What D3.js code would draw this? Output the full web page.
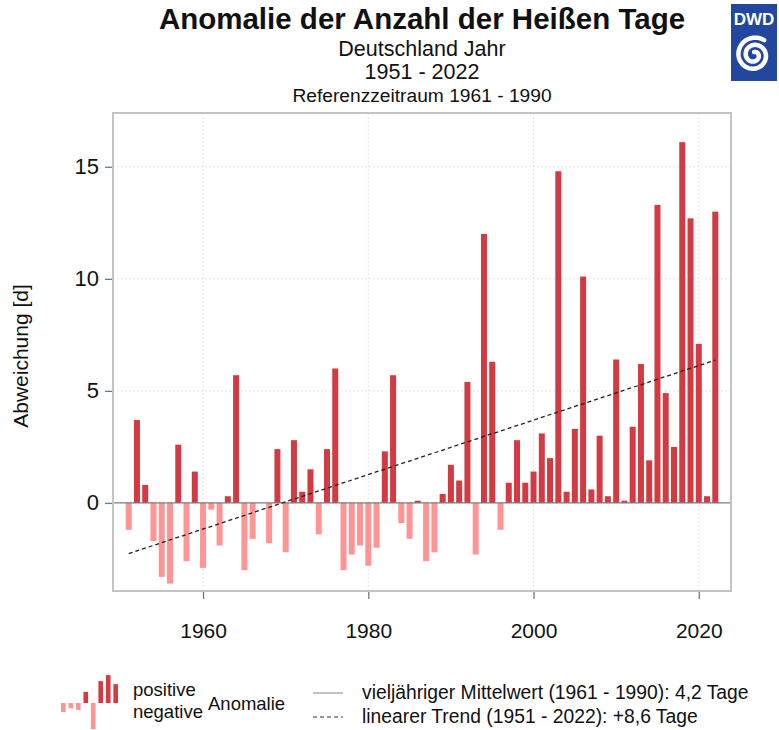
<!DOCTYPE html>
<html>
<head>
<meta charset="utf-8">
<script src="https://cdn.jsdelivr.net/npm/d3@7"></script>
<style>
  body { margin: 0; background: #fff; }
  svg { font-family: "Liberation Sans", Arial, Helvetica, sans-serif; }
</style>
</head>
<body>
<svg id="chart" width="779" height="730"></svg>
<script>
// --- DATA ---
const years = d3.range(1951, 2023);
const anomalies = [
  -1.2, 3.7, 0.8, -1.7, -3.3, -3.6, 2.6, -2.6, 1.4, -2.9,
  -0.3, -1.9, 0.3, 5.7, -3.0, -1.6, 0.0, -1.8, 2.4, -2.2,
  2.8, 0.5, 1.5, -1.4, 2.4, 6.0, -3.0, -2.3, -1.9, -2.8,
  -2.0, 2.3, 5.7, -0.9, -1.6, 0.1, -2.6, -2.2, 0.4, 1.7,
  1.0, 5.4, -2.3, 12.0, 6.3, -1.2, 0.9, 2.8, 0.9, 1.4,
  3.1, 2.0, 14.8, 0.5, 3.3, 10.1, 0.6, 3.0, 0.3, 6.4,
  0.1, 3.4, 6.2, 1.9, 13.3, 4.9, 2.5, 16.1, 12.7, 7.1,
  0.3, 13.0
];
const trendYears = [1951, 2022];
const trendValues = [-2.26, 6.37];
const meanValue = 0; // anomaly of the 1961-1990 mean
const yTicks = [0, 5, 10, 15];
const xTicks = [1960, 1980, 2000, 2020];
const legendIcon = [-3, -1.8, -2.3, 3.7, -8.7, 7.3, 9.3, 6.3];

const titleLines = ["Deutschland Jahr", "1951 - 2022"];
const POS_COLOR = "#d43a41";
const NEG_COLOR = "#ff9494";

// --- LAYOUT ---
const marginLeft = 113, marginRight = 48, marginTop = 113, marginBottom = 139;
const width = 779, height = 730;

const x = d3.scaleLinear()
    .domain([1949.1, 2023.9])
    .range([marginLeft, width - marginRight]);

const y = d3.scaleLinear()
    .domain([-3.93, 17.4])
    .range([height - marginBottom, marginTop]);

const svg = d3.select("#chart");
const data = years.map((yr, i) => ({ year: yr, value: anomalies[i] }));

// grid
svg.append("g")
    .attr("stroke", "#e4e4e4")
    .attr("stroke-dasharray", "2,2")
    .call(g => g.selectAll("line.v").data(xTicks).join("line")
        .attr("x1", d => x(d)).attr("x2", d => x(d))
        .attr("y1", marginTop).attr("y2", height - marginBottom))
    .call(g => g.selectAll("line.h").data(yTicks.filter(d => d !== 0)).join("line")
        .attr("class", "h")
        .attr("x1", marginLeft).attr("x2", width - marginRight)
        .attr("y1", d => y(d)).attr("y2", d => y(d)));

// bars
const barW = 6;
svg.append("g")
  .selectAll("rect")
  .data(data)
  .join("rect")
    .attr("x", d => x(d.year) - barW / 2)
    .attr("width", barW)
    .attr("y", d => y(Math.max(0, d.value)))
    .attr("height", d => Math.abs(y(d.value) - y(0)))
    .attr("fill", d => d.value >= 0 ? POS_COLOR : NEG_COLOR);

// mean line (zero anomaly)
svg.append("line")
    .attr("x1", marginLeft).attr("x2", width - marginRight)
    .attr("y1", y(meanValue)).attr("y2", y(meanValue))
    .attr("stroke", "#7a7a7a")
    .attr("stroke-width", 1.2);

// trend
svg.append("path")
    .datum(trendYears.map((yr, i) => [yr, trendValues[i]]))
    .attr("fill", "none")
    .attr("stroke", "#222")
    .attr("stroke-width", 1.3)
    .attr("stroke-dasharray", "4,3")
    .attr("d", d3.line().x(d => x(d[0])).y(d => y(d[1])));

// frame
svg.append("rect")
    .attr("x", marginLeft).attr("y", marginTop)
    .attr("width", width - marginLeft - marginRight)
    .attr("height", height - marginTop - marginBottom)
    .attr("fill", "none")
    .attr("stroke", "#c4c4c4")
    .attr("stroke-width", 2);

// axes
svg.append("g")
    .attr("transform", `translate(0,${height - marginBottom + 1})`)
    .call(d3.axisBottom(x).tickValues(xTicks).tickFormat(d3.format("d")).tickSize(7).tickPadding(24))
    .call(g => g.select(".domain").remove())
    .call(g => g.selectAll(".tick line").attr("stroke", "#777").attr("stroke-width", 1.3))
    .call(g => g.selectAll(".tick text").attr("font-size", 21).attr("fill", "#111").attr("font-family", null));

svg.append("g")
    .attr("transform", `translate(${marginLeft - 1},0)`)
    .call(d3.axisLeft(y).tickValues(yTicks).tickSize(7).tickPadding(6))
    .call(g => g.select(".domain").remove())
    .call(g => g.selectAll(".tick line").attr("stroke", "#777").attr("stroke-width", 1.3))
    .call(g => g.selectAll(".tick text").attr("font-size", 22).attr("fill", "#111").attr("font-family", null));

svg.append("text")
    .attr("transform", `translate(28,${(marginTop + height - marginBottom) / 2 + 4}) rotate(-90)`)
    .attr("text-anchor", "middle")
    .attr("font-size", 21)
    .attr("fill", "#111")
    .text("Abweichung [d]");

// titles
const cx = (marginLeft + width - marginRight) / 2;
svg.append("text")
    .attr("x", cx).attr("y", 29)
    .attr("text-anchor", "middle")
    .attr("font-size", 29.5)
    .attr("font-weight", "bold")
    .attr("fill", "#111")
    .text("Anomalie der Anzahl der Heißen Tage");
svg.selectAll("text.sub").data(titleLines).join("text")
    .attr("class", "sub")
    .attr("x", cx).attr("y", (d, i) => 56 + i * 23)
    .attr("text-anchor", "middle")
    .attr("font-size", 21.5)
    .attr("fill", "#111")
    .text(d => d);
svg.append("text")
    .attr("x", cx).attr("y", 102)
    .attr("text-anchor", "middle")
    .attr("font-size", 19.2)
    .attr("fill", "#111")
    .text("Referenzzeitraum 1961 - 1990");

// DWD logo
const logo = svg.append("g").attr("transform", "translate(731,4)");
logo.append("rect").attr("width", 46).attr("height", 77).attr("fill", "#22479c");
logo.append("text")
    .attr("x", 23).attr("y", 21)
    .attr("text-anchor", "middle")
    .attr("font-size", 17)
    .attr("font-weight", "bold")
    .attr("fill", "#fff")
    .text("DWD");
const spiral = d3.range(0, 4.2 * Math.PI, 0.08).map(t => [0.6 - t, 18 - t * 1.15]);
logo.append("path")
    .attr("transform", "translate(23,51)")
    .attr("fill", "none")
    .attr("stroke", "#fff")
    .attr("stroke-width", 4.5)
    .attr("stroke-linecap", "round")
    .attr("d", d3.lineRadial().angle(d => d[0]).radius(d => Math.max(d[1], 3))(spiral));

// --- LEGEND ---
const lx = d3.scaleBand().domain(d3.range(legendIcon.length)).range([61, 118]).paddingInner(0.38);
const ly = d3.scaleLinear().domain([0, 1]).range([703, 700]);
svg.append("g")
  .selectAll("rect")
  .data(legendIcon)
  .join("rect")
    .attr("x", (d, i) => lx(i))
    .attr("width", lx.bandwidth())
    .attr("y", d => ly(Math.max(0, d)))
    .attr("height", d => Math.abs(ly(d) - ly(0)))
    .attr("fill", d => d >= 0 ? POS_COLOR : NEG_COLOR);

const legendFont = 18.5;
const legendFontR = 19.3;
svg.append("text").attr("x", 133).attr("y", 696).attr("font-size", legendFont).attr("fill", "#111").text("positive");
svg.append("text").attr("x", 133).attr("y", 718).attr("font-size", legendFont).attr("fill", "#111").text("negative");
svg.append("text").attr("x", 208).attr("y", 710).attr("font-size", legendFont).attr("fill", "#111").text("Anomalie");

svg.append("line").attr("x1", 313).attr("x2", 343).attr("y1", 693).attr("y2", 693)
    .attr("stroke", "#999").attr("stroke-width", 1.2);
svg.append("line").attr("x1", 313).attr("x2", 343).attr("y1", 717).attr("y2", 717)
    .attr("stroke", "#333").attr("stroke-width", 1.2).attr("stroke-dasharray", "4,3");
svg.append("text").attr("x", 362).attr("y", 699).attr("font-size", legendFontR).attr("fill", "#111")
    .text("vieljähriger Mittelwert (1961 - 1990): 4,2 Tage");
svg.append("text").attr("x", 362).attr("y", 723).attr("font-size", legendFontR).attr("fill", "#111")
    .text("linearer Trend (1951 - 2022): +8,6 Tage");
</script>
</body>
</html>
